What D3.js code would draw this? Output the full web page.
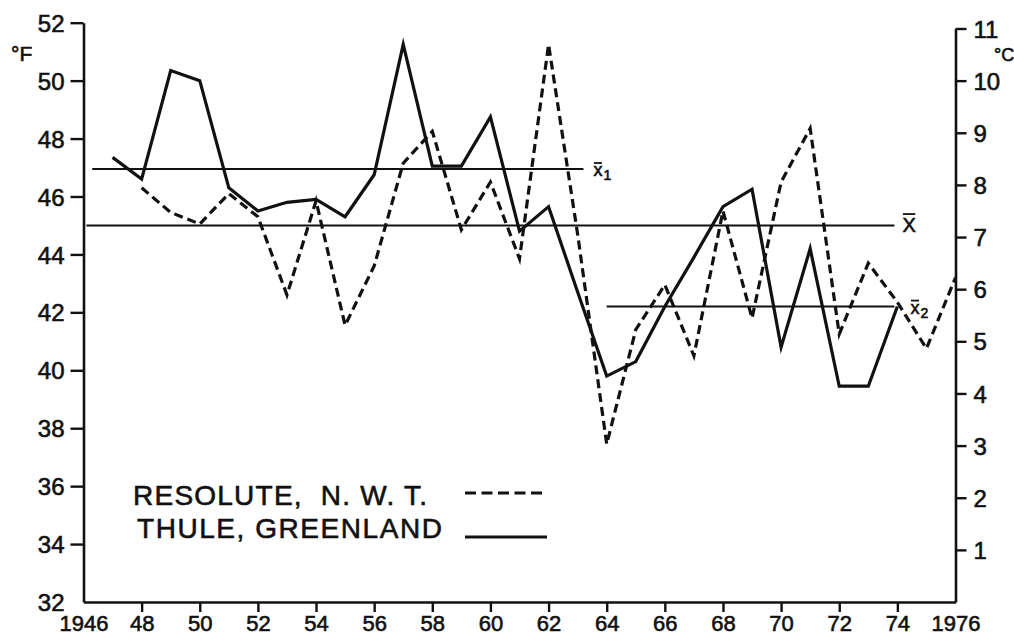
<!DOCTYPE html>
<html>
<head>
<meta charset="utf-8">
<script src="https://cdn.jsdelivr.net/npm/d3@7"></script>
<style>
  html, body { margin: 0; padding: 0; background: #fff; }
  svg { display: block; }
  text { font-family: "Liberation Sans", Arial, sans-serif; fill: #111; stroke: #111; stroke-width: 0.6px; }
</style>
</head>
<body>
<svg id="chart" width="1014" height="638"></svg>
<script>
// Mean July temperature, °F
const thuleYears = d3.range(1947, 1975);
const thuleTemps = [47.35, 46.6, 50.35, 50.0, 46.3, 45.5, 45.8, 45.9, 45.3, 46.75,
  51.25, 47.05, 47.05, 48.75, 44.8, 45.65, 42.7, 39.8, 40.3, 42.2,
  43.9, 45.65, 46.25, 40.8, 44.2, 39.45, 39.45, 42.2];

const resoluteYears = d3.range(1948, 1977);
const resoluteTemps = [46.3, 45.45, 45.05, 46.1, 45.3, 42.6, 45.85, 41.55, 43.6, 47.15,
  48.25, 44.85, 46.5, 43.85, 51.25, 44.7, 37.45, 41.4, 42.95, 40.5,
  45.5, 41.8, 46.5, 48.35, 41.25, 43.7, 42.35, 40.75, 43.2];

// Period means (°F) and the years each line spans
const meanNames = ["x1", "x", "x2"];
const meanValues = [46.95, 45.0, 42.2];
const meanFrom = [1946.3, 1946.1, 1964.0];
const meanTo = [1963.2, 1973.9, 1973.9];

// Axis ticks
const fTicks = d3.range(34, 53, 2);
const fLabels = d3.range(32, 53, 2);
const cTicks = d3.range(1, 12);
const yearTicks = d3.range(1948, 1975, 2);
const yearLabels = d3.range(1946, 1977, 2);

const svg = d3.select("#chart");
const x = d3.scaleLinear().domain([1946, 1976]).range([83.5, 955.5]);
const y = d3.scaleLinear().domain([32, 52]).range([602, 22.7]);
const yC = d3.scaleLinear().domain([0, 11]).range([y(32), y(32 + 11 * 1.8)]);

const ink = "#111";

// Left axis (°F)
const left = svg.append("g").attr("transform", `translate(${x(1946)},0)`)
  .call(d3.axisLeft(y).tickValues(fLabels).tickSize(13).tickSizeOuter(0).tickPadding(6));
left.select(".domain").attr("stroke", ink).attr("stroke-width", 2.6);
left.selectAll(".tick line").attr("stroke", ink).attr("stroke-width", 2.4)
  .attr("display", d => fTicks.includes(d) ? null : "none");
left.selectAll(".tick text").style("font-size", "24px").attr("fill", ink)
  .attr("dy", "0.36em");

// Right axis (°C)
const right = svg.append("g").attr("transform", `translate(${x(1976)},0)`)
  .call(d3.axisRight(yC).tickValues(cTicks).tickSize(11).tickSizeOuter(0).tickPadding(7));
right.select(".domain").attr("stroke", ink).attr("stroke-width", 2.6);
right.selectAll(".tick line").attr("stroke", ink).attr("stroke-width", 2.4);
right.selectAll(".tick text").style("font-size", "24px").attr("fill", ink)
  .attr("dy", "0.36em");

// Bottom axis (years)
const bottom = svg.append("g").attr("transform", `translate(0,${y(32)})`)
  .call(d3.axisBottom(x).tickValues(yearLabels).tickSize(10).tickSizeOuter(0).tickPadding(5)
    .tickFormat(d => (d === 1946 || d === 1976) ? String(d) : String(d % 100)));
bottom.select(".domain").attr("stroke", ink).attr("stroke-width", 2.6);
bottom.selectAll(".tick line").attr("stroke", ink).attr("stroke-width", 2.4)
  .attr("display", d => yearTicks.includes(d) ? null : "none");
bottom.selectAll(".tick text").style("font-size", "22px").attr("fill", ink)
  .attr("dy", "0.62em");

// Unit labels
svg.append("text").attr("x", 11).attr("y", 61).style("font-size", "21px").text("°F");
svg.append("text").attr("x", 994).attr("y", 61).style("font-size", "18px").text("°C");

// Mean lines
meanValues.forEach((v, i) => {
  svg.append("line")
    .attr("x1", x(meanFrom[i])).attr("x2", x(meanTo[i]))
    .attr("y1", y(v)).attr("y2", y(v))
    .attr("stroke", ink).attr("stroke-width", 2);
});

// Mean labels: x with an overbar and an optional subscript
function meanLabel(i, size, dx, dy, sub) {
  const lx = x(meanTo[i]) + dx, ly = y(meanValues[i]) + dy;
  const g = svg.append("g");
  g.append("text").attr("x", lx).attr("y", ly).style("font-size", size + "px")
    .text(sub ? "x" : "X");
  const w = size * (sub ? 0.5 : 0.667);
  const by = ly - size * (sub ? 0.72 : 0.92);
  g.append("line").attr("x1", lx + 0.5).attr("x2", lx + w - 0.5)
    .attr("y1", by).attr("y2", by)
    .attr("stroke", ink).attr("stroke-width", 1.8);
  if (sub) {
    g.append("text").attr("x", lx + w + 1).attr("y", ly + 4)
      .style("font-size", (size * 0.78) + "px").text(sub);
  }
}
meanLabel(0, 18, 10, 7, "1");
meanLabel(1, 20, 8, 7, null);
meanLabel(2, 18, 16, 7, "2");

// Series lines
const line = d3.line().x(d => x(d[0])).y(d => y(d[1]));
svg.append("path")
  .datum(thuleYears.map((yr, i) => [yr, thuleTemps[i]]))
  .attr("d", line).attr("fill", "none").attr("stroke", ink)
  .attr("stroke-width", 3.2).attr("stroke-linejoin", "miter").attr("stroke-miterlimit", 6);
svg.append("path")
  .datum(resoluteYears.map((yr, i) => [yr, resoluteTemps[i]]))
  .attr("d", line).attr("fill", "none").attr("stroke", ink)
  .attr("stroke-width", 3.2).attr("stroke-dasharray", "9,5")
  .attr("stroke-linejoin", "miter").attr("stroke-miterlimit", 6);

// Legend
svg.append("text").attr("x", 133).attr("y", 505).style("font-size", "28px")
  .attr("textLength", 294).attr("lengthAdjust", "spacing")
  .attr("xml:space", "preserve").text("RESOLUTE,  N. W. T.");
svg.append("line").attr("x1", 465).attr("x2", 547).attr("y1", 493).attr("y2", 493)
  .attr("stroke", ink).attr("stroke-width", 3).attr("stroke-dasharray", "11,5.5");
svg.append("text").attr("x", 137).attr("y", 538).style("font-size", "28px")
  .attr("textLength", 305).attr("lengthAdjust", "spacing").text("THULE, GREENLAND");
svg.append("line").attr("x1", 465).attr("x2", 547).attr("y1", 537).attr("y2", 537)
  .attr("stroke", ink).attr("stroke-width", 3);
</script>
</body>
</html>
